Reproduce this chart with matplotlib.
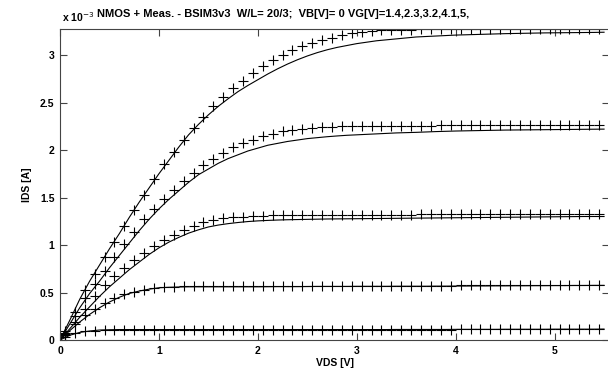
import numpy as np
import matplotlib.pyplot as plt
from matplotlib.ticker import FuncFormatter

plt.rcParams['font.family'] = ['Liberation Sans', 'DejaVu Sans']

# measured points, VDS = 0.05 : 0.1 : 5.45 (55 points), IDS in mA
vds_meas = np.round(np.arange(55) * 0.1 + 0.05, 2)
meas_vg14 = [0.03, 0.07, 0.09, 0.10, 0.105, 0.11, 0.11, 0.11, 0.11, 0.11,
             0.11, 0.11, 0.11, 0.11, 0.11, 0.11, 0.11, 0.11, 0.11, 0.11,
             0.11, 0.11, 0.11, 0.11, 0.11, 0.11, 0.11, 0.11, 0.11, 0.11,
             0.11, 0.11, 0.11, 0.11, 0.11, 0.11, 0.11, 0.11, 0.11, 0.11,
             0.115, 0.115, 0.115, 0.115, 0.115, 0.115, 0.115, 0.115, 0.115, 0.115,
             0.115, 0.115, 0.115, 0.115, 0.115]
meas_vg23 = [0.07, 0.17, 0.26, 0.33, 0.39, 0.44, 0.48, 0.51, 0.53, 0.545,
             0.555, 0.56, 0.565, 0.565, 0.565, 0.565, 0.565, 0.565, 0.565, 0.565,
             0.57, 0.57, 0.57, 0.57, 0.57, 0.57, 0.57, 0.57, 0.57, 0.57,
             0.57, 0.57, 0.57, 0.57, 0.57, 0.57, 0.57, 0.57, 0.57, 0.57,
             0.575, 0.575, 0.575, 0.575, 0.575, 0.575, 0.58, 0.58, 0.58, 0.58,
             0.58, 0.58, 0.58, 0.58, 0.58]
meas_vg32 = [0.05, 0.19, 0.33, 0.46, 0.58, 0.67, 0.76, 0.84, 0.92, 0.99,
             1.05, 1.11, 1.16, 1.20, 1.24, 1.26, 1.28, 1.29, 1.30, 1.31,
             1.31, 1.315, 1.32, 1.32, 1.32, 1.32, 1.32, 1.32, 1.32, 1.32,
             1.32, 1.32, 1.32, 1.32, 1.32, 1.32, 1.325, 1.325, 1.325, 1.325,
             1.325, 1.325, 1.325, 1.325, 1.33, 1.33, 1.33, 1.33, 1.33, 1.33,
             1.33, 1.33, 1.33, 1.33, 1.33]
meas_vg41 = [0.06, 0.25, 0.44, 0.59, 0.73, 0.87, 1.01, 1.14, 1.27, 1.38,
             1.48, 1.58, 1.67, 1.76, 1.84, 1.91, 1.97, 2.03, 2.07, 2.11,
             2.15, 2.17, 2.20, 2.21, 2.22, 2.23, 2.24, 2.24, 2.25, 2.25,
             2.25, 2.25, 2.25, 2.255, 2.255, 2.255, 2.255, 2.255, 2.26, 2.26,
             2.26, 2.26, 2.26, 2.26, 2.26, 2.26, 2.265, 2.265, 2.265, 2.265,
             2.265, 2.265, 2.265, 2.265, 2.265]
meas_vg50 = [0.09, 0.30, 0.53, 0.70, 0.87, 1.03, 1.20, 1.37, 1.53, 1.69,
             1.85, 1.98, 2.11, 2.23, 2.35, 2.46, 2.56, 2.65, 2.73, 2.81,
             2.88, 2.95, 3.00, 3.05, 3.09, 3.13, 3.16, 3.18, 3.21, 3.23,
             3.24, 3.25, 3.26, 3.26, 3.265, 3.265, 3.27, 3.27, 3.27, 3.27,
             3.27, 3.27, 3.27, 3.27, 3.27, 3.27, 3.27, 3.27, 3.27, 3.27,
             3.27, 3.27, 3.27, 3.27, 3.27]

# BSIM3v3 simulation, VDS = 0 : 0.1 : 5.5 (56 points), IDS in mA
vds_sim = np.round(np.arange(56) * 0.1, 2)
sim_vg14 = [0.0, 0.05, 0.08, 0.095, 0.105, 0.108, 0.11, 0.11, 0.11, 0.11,
            0.11, 0.11, 0.11, 0.11, 0.11, 0.11, 0.11, 0.11, 0.11, 0.11,
            0.11, 0.11, 0.11, 0.11, 0.11, 0.11, 0.11, 0.11, 0.11, 0.11,
            0.11, 0.11, 0.11, 0.11, 0.111, 0.111, 0.111, 0.111, 0.111, 0.111,
            0.112, 0.112, 0.112, 0.112, 0.112, 0.113, 0.113, 0.113, 0.113, 0.113,
            0.114, 0.114, 0.114, 0.114, 0.114, 0.115]
sim_vg23 = [0.0, 0.10, 0.19, 0.27, 0.34, 0.40, 0.45, 0.49, 0.515, 0.535,
            0.55, 0.555, 0.558, 0.56, 0.56, 0.56, 0.56, 0.56, 0.56, 0.56,
            0.56, 0.561, 0.562, 0.562, 0.562, 0.563, 0.564, 0.564, 0.564, 0.564,
            0.565, 0.565, 0.565, 0.565, 0.566, 0.566, 0.566, 0.566, 0.567, 0.567,
            0.568, 0.568, 0.569, 0.569, 0.57, 0.57, 0.571, 0.571, 0.572, 0.572,
            0.573, 0.573, 0.574, 0.574, 0.575, 0.575]
sim_vg32 = [0.0, 0.12, 0.24, 0.35, 0.46, 0.56, 0.65, 0.74, 0.82, 0.90,
            0.97, 1.03, 1.08, 1.125, 1.16, 1.19, 1.21, 1.225, 1.237, 1.247,
            1.254, 1.259, 1.263, 1.266, 1.268, 1.27, 1.272, 1.274, 1.275, 1.276,
            1.277, 1.278, 1.279, 1.28, 1.281, 1.282, 1.283, 1.284, 1.285, 1.286,
            1.287, 1.288, 1.289, 1.29, 1.291, 1.292, 1.293, 1.294, 1.295, 1.296,
            1.297, 1.298, 1.299, 1.30, 1.30, 1.30]
sim_vg41 = [0.0, 0.17, 0.34, 0.49, 0.62, 0.76, 0.89, 1.02, 1.15, 1.27,
            1.38, 1.48, 1.57, 1.66, 1.74, 1.80, 1.86, 1.91, 1.95, 1.99,
            2.02, 2.05, 2.07, 2.09, 2.105, 2.12, 2.13, 2.14, 2.148, 2.155,
            2.16, 2.165, 2.17, 2.175, 2.18, 2.183, 2.186, 2.19, 2.194, 2.197,
            2.20, 2.202, 2.204, 2.206, 2.208, 2.21, 2.211, 2.212, 2.213, 2.214,
            2.215, 2.216, 2.217, 2.218, 2.219, 2.22]
sim_vg50 = [0.0, 0.21, 0.43, 0.62, 0.79, 0.96, 1.12, 1.29, 1.45, 1.60,
            1.75, 1.89, 2.03, 2.16, 2.27, 2.37, 2.46, 2.54, 2.615, 2.68,
            2.74, 2.80, 2.855, 2.905, 2.95, 2.99, 3.025, 3.055, 3.08, 3.10,
            3.12, 3.135, 3.15, 3.16, 3.17, 3.18, 3.19, 3.195, 3.20, 3.205,
            3.21, 3.213, 3.216, 3.219, 3.222, 3.225, 3.227, 3.229, 3.231, 3.233,
            3.234, 3.235, 3.236, 3.237, 3.238, 3.24]

meas = [meas_vg14, meas_vg23, meas_vg32, meas_vg41, meas_vg50]
sim = [sim_vg14, sim_vg23, sim_vg32, sim_vg41, sim_vg50]

fig = plt.figure(figsize=(6.08, 3.77), dpi=100)
ax = fig.add_axes([60 / 608, 37 / 377, 549 / 608, 311 / 377])

for m, s in zip(meas, sim):
    ax.plot(vds_sim, np.array(s) * 1e-3, color='black', lw=0.8)
    ax.plot(vds_meas, np.array(m) * 1e-3, ls='none', marker='+',
            ms=7, mew=0.8, color='black')

ax.set_xlim(0, 5.55)
ax.set_ylim(0, 3.274e-3)
ax.set_xticks([0, 1, 2, 3, 4, 5])
ax.set_yticks(np.arange(0, 3.01e-3, 0.5e-3))
ax.yaxis.set_major_formatter(FuncFormatter(lambda v, p: '%g' % round(v * 1e3, 3)))
ax.tick_params(direction='in', length=5, width=0.8, top=True, right=True,
               labelsize=7.5, pad=4, color='#444444')
for lab in ax.get_xticklabels() + ax.get_yticklabels():
    lab.set_fontweight('bold')
for sp in ax.spines.values():
    sp.set_linewidth(0.8)
    sp.set_color('#444444')

ax.set_xlabel('VDS [V]', fontsize=7.5, fontweight='bold', labelpad=2)
ax.set_ylabel('IDS [A]', fontsize=7.5, fontweight='bold', labelpad=6)

fig.text(62 / 608, 1 - 17 / 377, r'x 10$^{-3}$', fontsize=7.5,
         fontweight='bold', va='center', ha='left')
fig.text(97 / 608, 1 - 14 / 377,
         'NMOS + Meas. - BSIM3v3  W/L= 20/3;  VB[V]= 0 VG[V]=1.4,2.3,3.2,4.1,5,',
         fontsize=8, fontweight='bold', va='center', ha='left')

fig.savefig('out.png', dpi=100)
